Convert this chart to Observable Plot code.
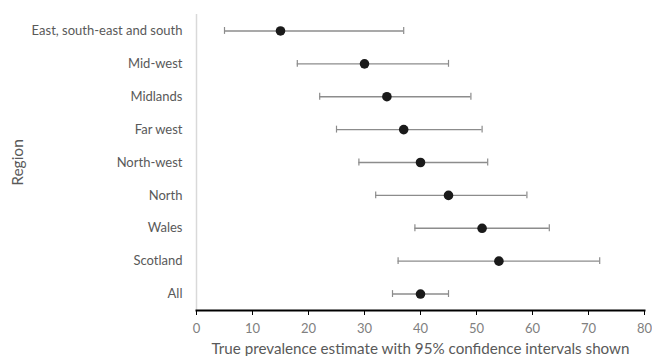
<!DOCTYPE html>
<html>
<head>
<meta charset="utf-8">
<script src="https://cdn.jsdelivr.net/npm/d3@7"></script>
<script src="https://cdn.jsdelivr.net/npm/@observablehq/plot@0.6"></script>
<style>
  html, body { margin: 0; padding: 0; background: #fff; }
  #chart svg { display: block; }
</style>
</head>
<body>
<div id="chart"></div>
<script>
const regions = ["East, south-east and south", "Mid-west", "Midlands", "Far west", "North-west", "North", "Wales", "Scotland", "All"];
const estimate = [15, 30, 34, 37, 40, 45, 51, 54, 40];
const lower = [5, 18, 22, 25, 29, 32, 39, 36, 35];
const upper = [37, 45, 49, 51, 52, 59, 63, 72, 45];
const xTicks = [0, 10, 20, 30, 40, 50, 60, 70, 80];

const data = regions.map((r, i) => ({region: r, est: estimate[i], lo: lower[i], hi: upper[i]}));

const font = "Lato, 'Open Sans', sans-serif";
const textColor = "#595959";
const barColor = "#8c8c8c";

const chart = Plot.plot({
  width: 652,
  height: 356,
  marginLeft: 196,
  marginRight: 8,
  marginTop: 14,
  marginBottom: 46,
  style: {fontFamily: font, fontSize: "13px", color: textColor, background: "#fff"},
  x: {domain: [0, 80]},
  y: {type: "band", domain: regions, paddingInner: 0, paddingOuter: 0, align: 0.5, round: false},
  marks: [
    Plot.ruleX([0], {stroke: "#d9d9d9", strokeWidth: 1.5}),
    Plot.ruleY(data, {y: "region", x1: "lo", x2: "hi", stroke: barColor, strokeWidth: 1.4}),
    Plot.tickX(data, {x: "lo", y: "region", stroke: barColor, strokeWidth: 1.2, insetTop: 13, insetBottom: 13}),
    Plot.tickX(data, {x: "hi", y: "region", stroke: barColor, strokeWidth: 1.2, insetTop: 13, insetBottom: 13}),
    Plot.dot(data, {x: "est", y: "region", r: 4.8, fill: "#1a1a1a", stroke: "none"}),
    Plot.frame({anchor: "bottom", stroke: "#000", strokeWidth: 2}),
    Plot.axisX({ticks: xTicks, tickSize: 5, tickPadding: 8, stroke: "#000", fill: "#808080", fontSize: 13, label: null}),
    Plot.axisX({ticks: [], tickSize: 0, fill: textColor, fontSize: 15.2,
      label: "True prevalence estimate with 95% confidence intervals shown", labelAnchor: "center", labelOffset: 43, labelArrow: false}),
    Plot.axisY({tickSize: 0, tickPadding: 14, fill: textColor, fontSize: 13, label: null}),
    Plot.axisY({ticks: [], tickSize: 0, fill: textColor, fontSize: 15.5,
      label: "Region", labelAnchor: "center", labelOffset: 185, labelArrow: false})
  ]
});
document.getElementById("chart").appendChild(chart);
</script>
</body>
</html>
